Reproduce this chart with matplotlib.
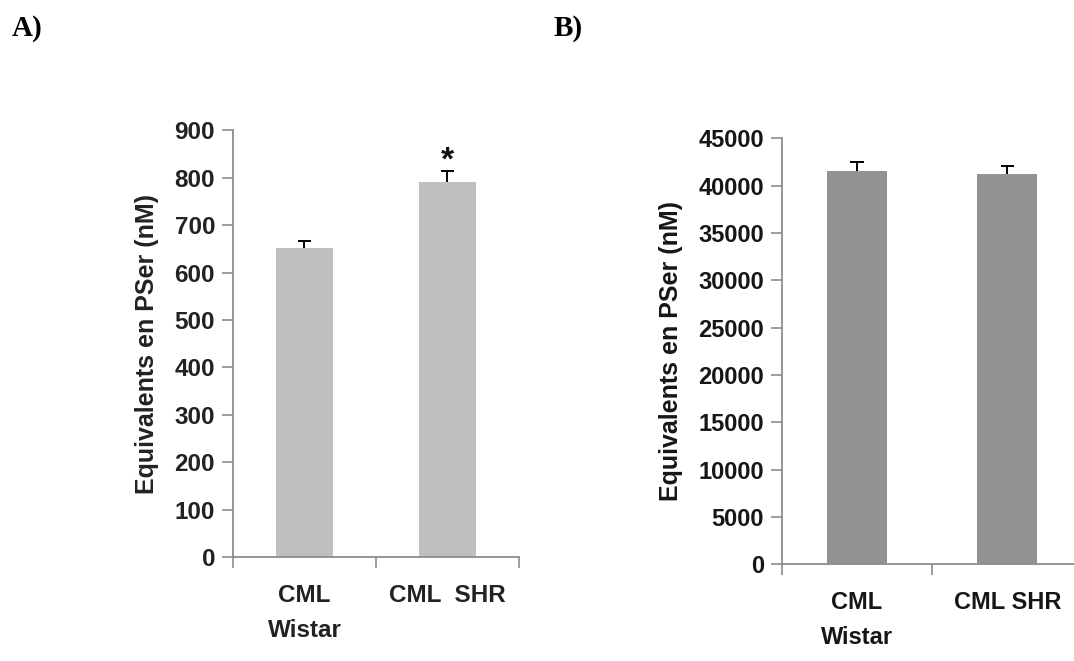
import numpy as np
import matplotlib
matplotlib.use("Agg")
import matplotlib.pyplot as plt

# data
groups_a = ["CML\nWistar", "CML  SHR"]
values_a = [652, 790]
errors_a = [15, 23]

groups_b = ["CML\nWistar", "CML SHR"]
values_b = [41580, 41200]
errors_b = [900, 900]

yticks_a = np.arange(0, 901, 100)
yticks_b = np.arange(0, 45001, 5000)
ylabel = "Equivalents en PSer (nM)"

plt.rcParams["font.family"] = ["Liberation Sans", "DejaVu Sans"]
plt.rcParams["font.weight"] = "bold"

fig = plt.figure(figsize=(10.74, 6.61), dpi=100)
ax_a = fig.add_axes([0.217, 0.157, 0.266, 0.646])
ax_b = fig.add_axes([0.728, 0.146, 0.28, 0.645])


def draw_panel(ax, groups, values, errors, yticks, bar_color, text_color, fs):
    pos = np.arange(len(groups)) + 0.5
    ax.bar(pos, values, width=0.4, color=bar_color, zorder=2)
    # only the upper half of the error bar is drawn
    tops = np.array(values) + np.array(errors)
    ax.vlines(pos, values, tops, color="black", linewidth=1.4, zorder=3)
    ax.hlines(tops, pos - 0.045, pos + 0.045, color="black", linewidth=1.4, zorder=3)
    ax.set_xlim(0, len(groups))
    ax.set_ylim(0, yticks[-1])
    ax.set_yticks(yticks)
    ax.set_yticklabels([str(t) for t in yticks], color=text_color, fontsize=fs,
                       fontweight="bold")
    ax.set_xticks(np.arange(len(groups) + 1))
    ax.set_xticklabels([])
    ax.set_xticks(pos, minor=True)
    ax.set_xticklabels(groups, minor=True, color=text_color, fontsize=fs,
                       fontweight="bold", linespacing=1.7)
    ax.tick_params(axis="x", which="minor", length=0, pad=19)
    ax.tick_params(axis="both", which="major", length=8, width=1.2, color="#8c8c8c",
                   direction="out")
    ax.tick_params(axis="y", pad=5)
    for s in ["top", "right"]:
        ax.spines[s].set_visible(False)
    for s in ["left", "bottom"]:
        ax.spines[s].set_color("#8c8c8c")
        ax.spines[s].set_linewidth(1.3)
    ax.set_ylabel(ylabel, color=text_color, fontsize=18, fontweight="bold", labelpad=11)


draw_panel(ax_a, groups_a, values_a, errors_a, yticks_a, "#c0bfbd", "#222222", 17.5)
draw_panel(ax_b, groups_b, values_b, errors_b, yticks_b, "#939396", "#161616", 17)
ax_b.spines["bottom"].set_clip_on(False)

# significance mark
ax_a.text(1.5, values_a[1] + errors_a[1] + 22, "*", ha="center", va="center",
          fontsize=24, fontweight="bold", color="#111111")

fig.text(0.011, 0.957, "A)", family="Liberation Serif", fontsize=21,
         fontweight="bold", va="center")
fig.text(0.515, 0.957, "B)", family="Liberation Serif", fontsize=21,
         fontweight="bold", va="center")

fig.savefig("out.png", dpi=100)
